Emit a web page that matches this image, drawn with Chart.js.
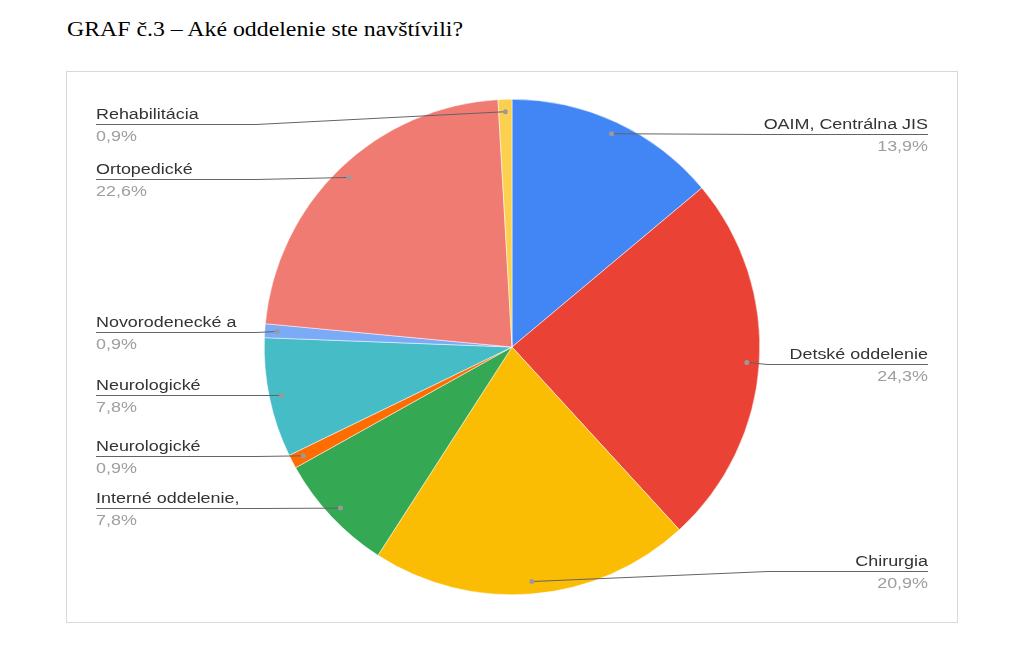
<!DOCTYPE html>
<html>
<head>
<meta charset="utf-8">
<script src="https://cdn.jsdelivr.net/npm/chart.js@4"></script>
<style>
  body { margin: 0; background: #fff; width: 1024px; height: 653px; position: relative; overflow: hidden; }
  #title { position: absolute; left: 67px; top: 18px; font-family: "Liberation Serif", serif; font-size: 20px; color: #000;
           transform: scaleX(1.19); transform-origin: left top; white-space: nowrap; }
  #box { position: absolute; left: 66px; top: 71px; width: 890px; height: 550px; border: 1px solid #d9d9d9; }
</style>
</head>
<body>
<div id="title">GRAF č.3 – Aké oddelenie ste navštívili?</div>
<div id="box"><canvas id="pie-graph" width="890" height="550"></canvas></div>
<script>
var departments = ['OAIM, Centrálna JIS', 'Detské oddelenie', 'Chirurgia', 'Interné oddelenie,', 'Neurologické', 'Neurologické', 'Novorodenecké a', 'Ortopedické', 'Rehabilitácia'];
var shares = [13.9, 24.3, 20.9, 7.8, 0.9, 7.8, 0.9, 22.6, 0.9];
var sliceColors = ['#4285F4', '#EA4335', '#FBBC04', '#34A853', '#FF6D01', '#46BDC6', '#7BAAF7', '#F07B72', '#FCD04F'];

// where each label sits inside the box (side, y of the underline)
var labelSide = ['right', 'right', 'right', 'left', 'left', 'left', 'left', 'left', 'left'];
var labelLineY = [62, 292, 499, 436, 384, 323, 260, 107, 52];

function fmtPct(v) {
    return v.toFixed(1).replace('.', ',') + '%';
}

var leaderLabels = {
    id: 'leaderLabels',
    afterDatasetsDraw: function(chart) {
        var ctx = chart.ctx;
        var arcs = chart.getDatasetMeta(0).data;
        var leftX = 29, rightX = 861, sx = 1.28;
        arcs.forEach(function(arc, i) {
            var mid = (arc.startAngle + arc.endAngle) / 2;
            var r = arc.outerRadius * 0.95;
            var dx = arc.x + Math.cos(mid) * r;
            var dy = arc.y + Math.sin(mid) * r;
            var ly = labelLineY[i];
            var right = labelSide[i] === 'right';
            var start = right ? rightX : leftX;
            var knee = right ? rightX - 160 : leftX + 160;
            if (right && dx > knee) knee = dx + 20;
            if (!right && dx < knee) knee = dx - 20;

            ctx.save();
            ctx.strokeStyle = '#636363';
            ctx.lineWidth = 1;
            ctx.beginPath();
            ctx.moveTo(dx, dy);
            ctx.lineTo(knee, ly + 0.5);
            ctx.lineTo(start, ly + 0.5);
            ctx.stroke();

            ctx.fillStyle = '#9a9a9a';
            ctx.beginPath();
            ctx.arc(dx, dy, 2.5, 0, Math.PI * 2);
            ctx.fill();

            ctx.font = '14px "Liberation Sans", Arial, sans-serif';
            ctx.textBaseline = 'alphabetic';
            ctx.textAlign = right ? 'right' : 'left';
            ctx.translate(start, 0);
            ctx.scale(sx, 1);
            ctx.fillStyle = '#333333';
            ctx.fillText(departments[i], 0, ly - 5);
            ctx.fillStyle = '#9e9e9e';
            ctx.fillText(fmtPct(shares[i]), 0, ly + 17);
            ctx.restore();
        });
    }
};

var ctxPie = document.getElementById('pie-graph').getContext('2d');
var pieChart = new Chart(ctxPie, {
    type: 'pie',
    data: {
        labels: departments,
        datasets: [{
            data: shares,
            backgroundColor: sliceColors,
            borderColor: '#ffffff',
            borderWidth: 0.5
        }]
    },
    options: {
        responsive: false,
        animation: false,
        layout: { padding: { top: 27, bottom: 27, left: 0, right: 0 } },
        plugins: {
            legend: { display: false },
            tooltip: { enabled: false }
        }
    },
    plugins: [leaderLabels]
});
</script>
</body>
</html>
